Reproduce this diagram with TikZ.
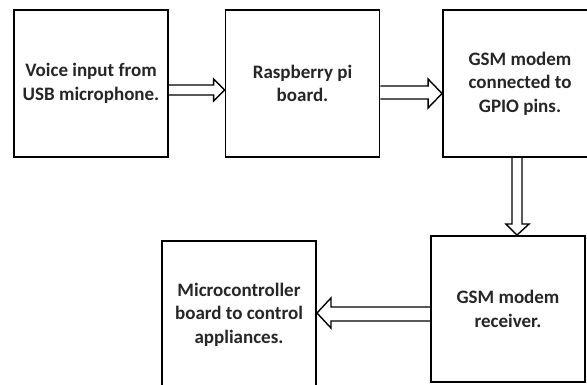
\documentclass[tikz,border=0pt]{standalone}
\usepackage{fontspec}
\setmainfont{Carlito}
\usetikzlibrary{calc}
\tikzset{
  block/.style={draw=black, line width=1.9pt, fill=white, minimum width=154pt,
    minimum height=147pt, align=center, inner sep=0pt,
    font=\fontsize{19}{23.5}\selectfont\bfseries, text=black!85},
  hollow/.style={draw=black, line width=1.4pt, line join=miter}
}
\begin{document}
\begin{tikzpicture}[x=1pt, y=-1pt]
  \useasboundingbox (0,0) rectangle (587,385);
  \fill[white] (0,0) rectangle (587,385);
  \clip (0,0) rectangle (587,385);

  % blocks
  \node[block] (v)  at (91,83.5)   {Voice input from\\USB microphone.};
  \node[block] (r)  at (302.5,83.5) {Raspberry pi\\board.};
  \node[block] (g)  at (520,83.5)  {GSM modem\\connected to\\GPIO pins.};
  \node[block, minimum height=146pt] (rx) at (508,309) {GSM modem\\receiver.};
  \node[block] (m)  at (239,314.5) {Microcontroller\\board to control\\appliances.};

  % hollow block arrows
  \draw[hollow] ($(v.east)+(0,1.5)$) -- ($(r.west)+(-11,1.5)$) -- ($(r.west)+(-11,-4.5)$)
    -- ($(r.west)+(0,6.5)$) -- ($(r.west)+(-11,17.5)$) -- ($(r.west)+(-11,11.5)$)
    -- ($(v.east)+(0,11.5)$);
  \draw[hollow] ($(r.east)+(0,2.5)$) -- ($(g.west)+(-14,2.5)$) -- ($(g.west)+(-14,-4.5)$)
    -- ($(g.west)+(0,10)$) -- ($(g.west)+(-14,24.5)$) -- ($(g.west)+(-14,15.5)$)
    -- ($(r.east)+(0,15.5)$);
  \draw[hollow] ($(g.south)+(-8,0)$) -- ($(rx.north)+(4,-11)$) -- ($(rx.north)+(-2,-11)$)
    -- ($(rx.north)+(9,0)$) -- ($(rx.north)+(21,-11)$) -- ($(rx.north)+(14,-11)$)
    -- ($(g.south)+(2,0)$);
  \draw[hollow] ($(rx.west)+(0,-2)$) -- ($(m.east)+(14,-7.5)$) -- ($(m.east)+(14,-16.5)$)
    -- ($(m.east)+(0,-1.5)$) -- ($(m.east)+(14,13.5)$) -- ($(m.east)+(14,6.5)$)
    -- ($(rx.west)+(0,12)$);
\end{tikzpicture}
\end{document}
